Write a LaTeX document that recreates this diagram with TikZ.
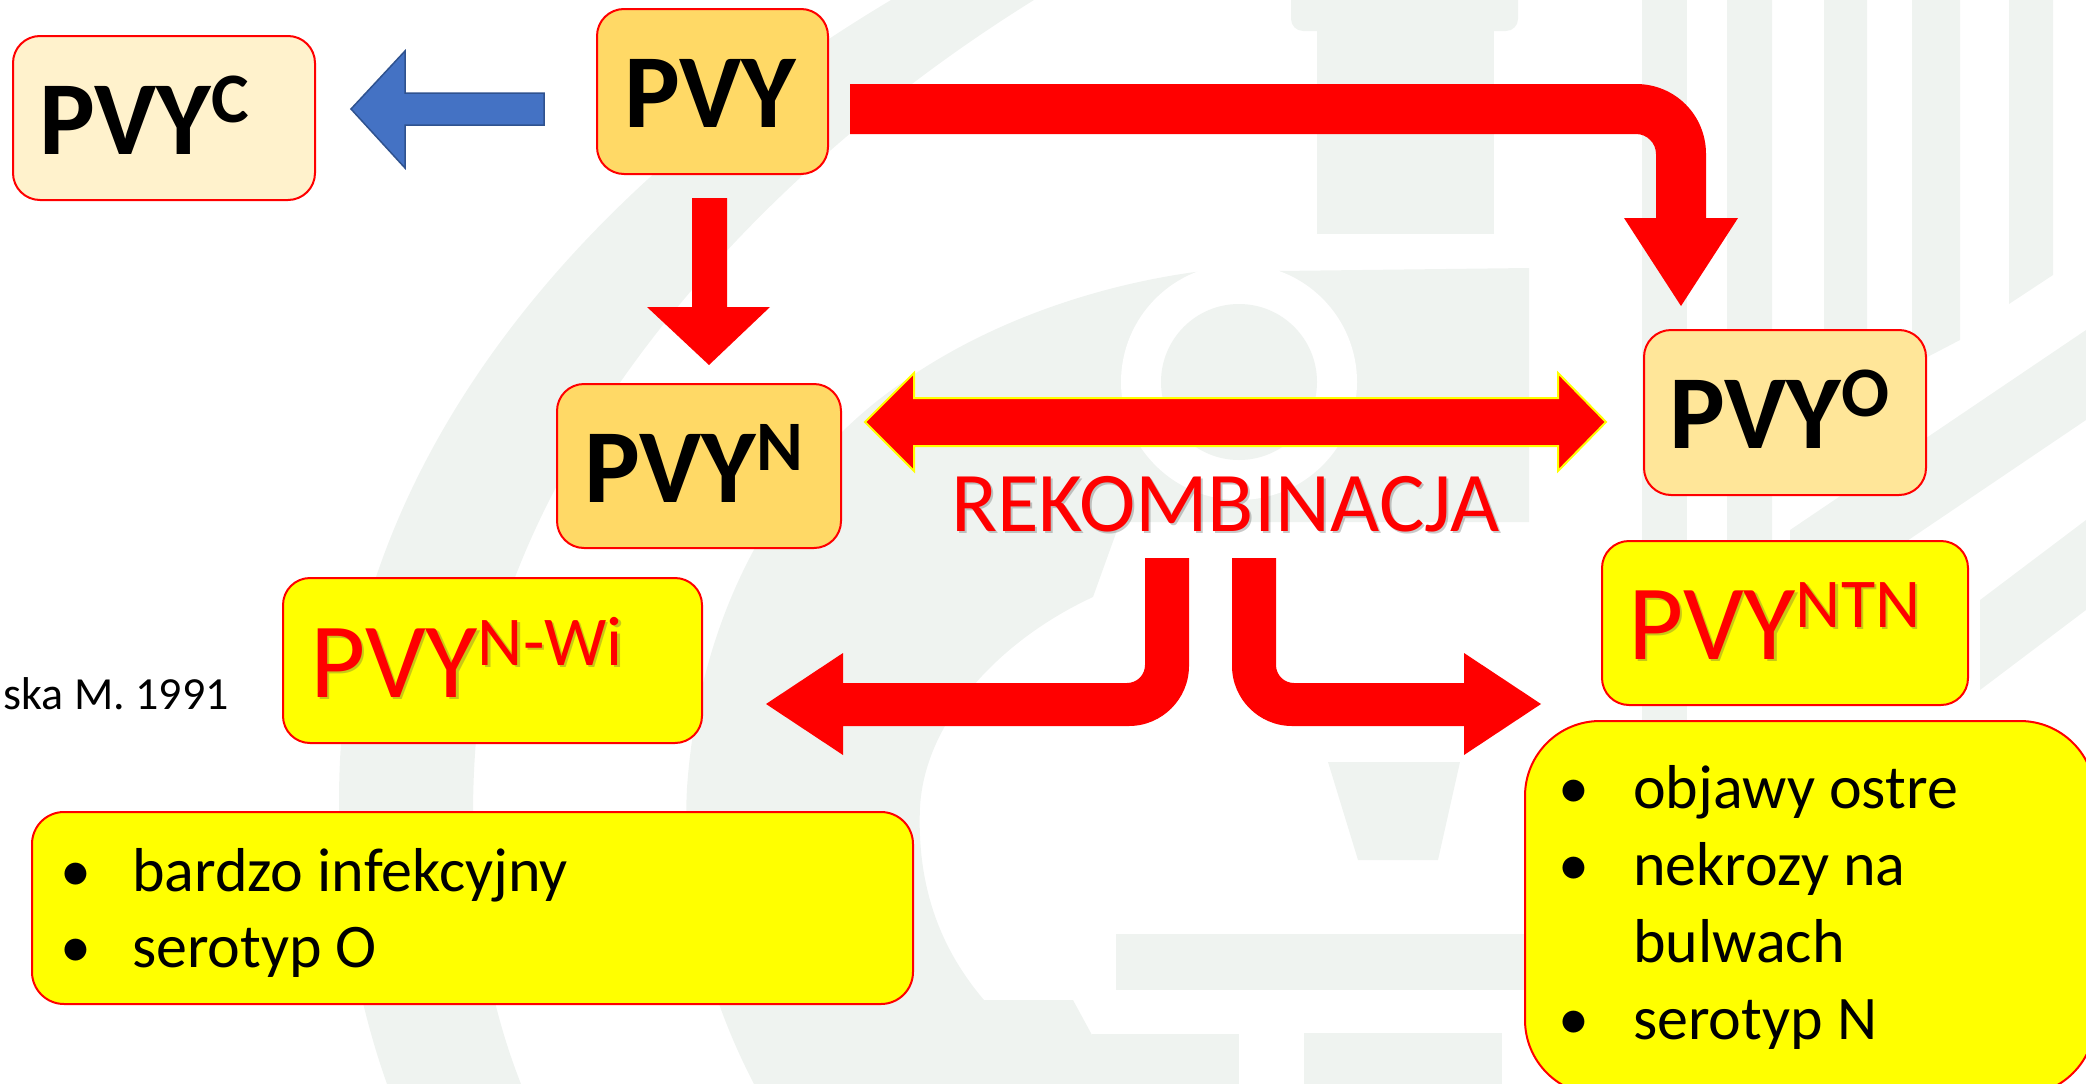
\documentclass[tikz,border=0pt]{standalone}
\usepackage{fontspec}
\setmainfont{Carlito}
\definecolor{wm}{RGB}{239,243,240}
\definecolor{gold}{HTML}{FFD966}
\definecolor{goldlt}{HTML}{FFE699}
\definecolor{cream}{HTML}{FFF2CC}
\definecolor{yel}{HTML}{FFFF00}
\definecolor{pvred}{HTML}{FF0000}
\definecolor{arrblue}{HTML}{4472C4}
\definecolor{arrbluedk}{HTML}{2F528F}
\newcommand\bigpvy[1]{\fontsize{105}{105}\selectfont\bfseries PVY\raisebox{32pt}{\fontsize{71}{71}\selectfont #1}}
\newcommand\redpvy[1]{\fontsize{107}{107}\selectfont PVY\raisebox{32pt}{\fontsize{70}{70}\selectfont #1}}
\begin{document}
\begin{tikzpicture}[x=1pt,y=-1pt,
  box/.style={draw=pvred, line width=2pt, rounded corners=27pt, inner sep=0pt},
  lbl/.style={anchor=base west, inner sep=0pt},
  shadowtxt/.style={anchor=base west, inner sep=0pt, text=black!70, opacity=0.3},
  listtxt/.style={anchor=base west, inner sep=0pt, font=\fontsize{62}{62}\selectfont},
  redarrow/.style={fill=pvred}]
\useasboundingbox (0,0) rectangle (2086,1084);
\clip (0,0) rectangle (2086,1084);
% ---------- watermark ----------
\fill[wm] (891,0) -- (1034,0) .. controls (760,170) and (530,430) .. (480,700)
   .. controls (462,850) and (480,980) .. (521,1084) -- (387,1084)
   .. controls (350,980) and (330,850) .. (343,720)
   .. controls (380,430) and (590,180) .. (891,0) -- cycle;
\fill[wm] (754,1084) .. controls (700,980) and (682,880) .. (687,788)
   .. controls (700,600) and (790,460) .. (900,384)
   .. controls (990,320) and (1100,285) .. (1195,272)
   -- (1529,268) -- (1529,522) -- (1120,522) -- (1093,597)
   .. controls (1000,640) and (925,720) .. (920,807)
   .. controls (916,900) and (950,960) .. (984,1000)
   -- (1073,1000) -- (1092,1035) -- (1092,1084) -- cycle;
\fill[white] (1239,382) circle (118);
\fill[wm] (1239,382) circle (78);
\fill[wm, rounded corners=12pt] (1291,-20) rectangle (1518,31);
\fill[wm] (1317,0) rectangle (1494,234);
\fill[wm] (1642,0) rectangle (1687,760);
\fill[wm] (1727,0) -- (1772,0) -- (1772,600) -- (1727,630) -- cycle;
\fill[wm] (1824,0) -- (1867,0) -- (1867,390) -- (1824,420) -- cycle;
\fill[wm] (1912,0) -- (1960,0) -- (1960,340) -- (1912,365) -- cycle;
\fill[wm] (2009,0) -- (2053,0) -- (2053,275) -- (2009,304) -- cycle;
\fill[wm] (2086,330) -- (2086,420) -- (1790,620) -- (1790,530) -- cycle;
\fill[wm] (2086,520) -- (2086,610) -- (1980,690) -- (1980,600) -- cycle;
\fill[wm] (1328,762) -- (1460,762) -- (1438,860) -- (1358,860) -- cycle;
\fill[wm] (1116,934) rectangle (1524,990);
\fill[wm] (1304,1033) rectangle (1502,1090);
\fill[wm] (1092,1034) rectangle (1239,1090);
% ---------- boxes ----------
\node[box, fill=cream, minimum width=302pt, minimum height=164pt] (bc) at (164,118) {};
\node[box, fill=gold, minimum width=231pt, minimum height=165pt] (bp) at (712.5,91.5) {};
\node[box, fill=gold, minimum width=284pt, minimum height=164pt] (bn) at (699,466) {};
\node[box, fill=goldlt, minimum width=282pt, minimum height=165pt] (bo) at (1785,412.5) {};
\node[box, fill=yel, minimum width=419pt, minimum height=165pt] (bw) at (492.5,660.5) {};
\node[box, fill=yel, minimum width=366pt, minimum height=164pt] (bt) at (1785,623) {};
\node[box, fill=yel, rounded corners=32pt, minimum width=881pt, minimum height=192pt] (bl) at (472.5,908) {};
\node[box, fill=yel, rounded corners=75pt, minimum width=570pt, minimum height=374pt] (br) at (1810,908) {};
% ---------- arrows ----------
\filldraw[fill=arrblue, draw=arrbluedk, line width=1.5pt]
  (544,93) -- (405,93) -- (405,51) -- (351,109) -- (405,168) -- (405,125) -- (544,125) -- cycle;
\fill[redarrow] (692,198) -- (727,198) -- (727,307) -- (770,307) -- (709,365) -- (647,307) -- (692,307) -- cycle;
\fill[redarrow] (850,84) -- (1636,84) .. controls (1675,84) and (1706,115) .. (1706,154)
  -- (1706,218) -- (1738,218) -- (1681,306) -- (1624,218) -- (1656,218) -- (1656,154)
  .. controls (1656,143) and (1647,134) .. (1636,134) -- (850,134) -- cycle;
\filldraw[fill=pvred, draw=yel, line width=2pt]
  (865,422) -- (914,373) -- (914,398) -- (1558,398) -- (1558,373) -- (1606,422)
  -- (1558,471) -- (1558,446) -- (914,446) -- (914,471) -- cycle;
\fill[redarrow] (1145,558) -- (1189,558) -- (1189,666) .. controls (1189,699) and (1162,726) .. (1129,726)
  -- (843,726) -- (843,755) -- (766,704) -- (843,653) -- (843,683) -- (1127,683)
  .. controls (1137,683) and (1145,675) .. (1145,665) -- cycle;
\fill[redarrow] (1232,558) -- (1276,558) -- (1276,665) .. controls (1276,675) and (1284,683) .. (1294,683)
  -- (1464,683) -- (1464,653) -- (1541,704) -- (1464,755) -- (1464,726) -- (1292,726)
  .. controls (1259,726) and (1232,699) .. (1232,666) -- cycle;
% ---------- texts ----------
\node[lbl] (tc) at (39,154) {\bigpvy{C}};
\node[lbl] (tp) at (624,127) {\bigpvy{}};
\node[lbl] (tn) at (584,502) {\bigpvy{N}};
\node[lbl] (to) at (1669,448) {\bigpvy{O}};
\node[shadowtxt] at (312.5,699.5) {\redpvy{N-Wi}};
\node[lbl, text=pvred] (tw) at (310,697) {\redpvy{N-Wi}};
\node[shadowtxt] at (1630.5,661.5) {\redpvy{NTN}};
\node[lbl, text=pvred] (tt) at (1628,659) {\redpvy{NTN}};
\node[shadowtxt, font=\fontsize{85}{85}\selectfont] at (953,533) {REKOMBINACJA};
\node[lbl, text=pvred, font=\fontsize{85}{85}\selectfont] (rek) at (951,531) {REKOMBINACJA};
\node[anchor=base east, inner sep=0pt, font=\fontsize{46}{46}\selectfont] (cite) at (229,709) {ska M. 1991};
\node[listtxt] (bl1) at (60,891) {•};
\node[listtxt] (tl1) at (132,891) {bardzo infekcyjny};
\node[listtxt] (bl2) at (60,967) {•};
\node[listtxt] (tl2) at (132,967) {serotyp O};
\node[listtxt] (br1) at (1558,808) {•};
\node[listtxt] (tr1) at (1633,808) {objawy ostre};
\node[listtxt] (br2) at (1558,885) {•};
\node[listtxt] (tr2) at (1633,885) {nekrozy na};
\node[listtxt] (tr3) at (1633,962) {bulwach};
\node[listtxt] (br4) at (1558,1039) {•};
\node[listtxt] (tr4) at (1633,1039) {serotyp N};
\end{tikzpicture}
\end{document}
